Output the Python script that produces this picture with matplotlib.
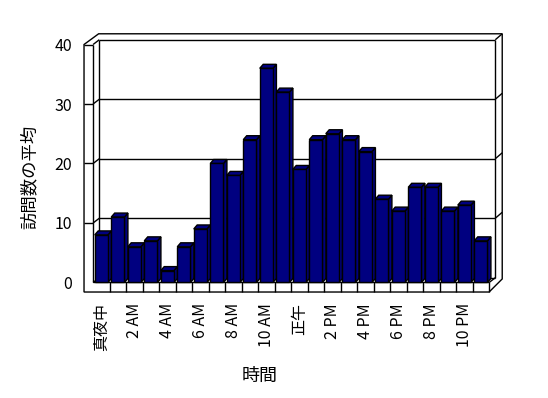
import matplotlib
matplotlib.use('Agg')
import matplotlib.pyplot as plt
from matplotlib.patches import Polygon
import numpy as np

plt.rcParams['font.family'] = ['Noto Sans CJK JP', 'DejaVu Sans']

# データ (時間ごとの訪問数の平均)
horas = np.arange(24)
visitas = [8, 11, 6, 7, 2, 6, 9, 20, 18, 24, 36, 32,
           19, 24, 25, 24, 22, 14, 12, 16, 16, 12, 13, 7]
rotulos = ['真夜中', '2 AM', '4 AM', '6 AM', '8 AM', '10 AM',
           '正午', '2 PM', '4 PM', '6 PM', '8 PM', '10 PM']
yticks = [0, 10, 20, 30, 40]

# 3D風の奥行き (データ単位)
WX, WY = 0.375, 0.8     # 壁の奥行き
LW = 0.55               # 左壁の厚さ
FT = 1.6                # 床の厚さ
BX, BY = 0.42, 1.0      # 背面壁の厚さ
BDX, BDY = 0.21, 0.67   # 棒の奥行き
bw = 0.8
azul = '#000080'

fig = plt.figure(figsize=(5.48, 3.98), dpi=100)
ax = fig.add_axes([84/548, (398-292)/398, (503-84)/548, (292-34)/398])
ax.set_xlim(-1.0515, 24.342)
ax.set_ylim(-1.597, 41.765)
for s in ax.spines.values():
    s.set_visible(False)

x0, x1 = -0.5, 23.5
top = yticks[-1]

# 外枠 (白)
contorno = [(x0 - LW, -FT), (x1, -FT), (x1 + WX + BX, 0.6),
            (x1 + WX + BX, top + WY + BY), (x0 + WX - 0.04, top + WY + BY),
            (x0 - LW, top)]
ax.add_patch(Polygon(contorno, closed=True, facecolor='white',
                     edgecolor='black', lw=1.0, zorder=1, clip_on=False))

def linha(xs, ys):
    ax.plot(xs, ys, color='black', lw=1.0, zorder=2, clip_on=False,
            solid_capstyle='butt')

# 目盛線と壁
for v in yticks:
    linha([x0, x0 + WX], [v, v + WY])
    linha([x0 + WX, x1 + WX], [v + WY, v + WY])
    if v > 0:
        linha([x0 - LW, x0], [v, v])
        linha([x1 + WX, x1 + WX + BX], [v + WY, v + WY + BY])
linha([x0, x0], [0, top])
linha([x0 + WX, x0 + WX], [WY, top + WY])
linha([x1 + WX, x1 + WX], [WY, top + WY])

# 床
linha([x0, x1], [0, 0])
linha([x1, x1 + WX], [0, WY])
for k in range(24):
    linha([k + 0.5, k + 0.5], [-FT, 0])

# 棒
for i, v in zip(horas, visitas):
    z = 3 + i * 0.01
    lado = [(i + bw/2, 0), (i + bw/2 + BDX, BDY),
            (i + bw/2 + BDX, v + BDY), (i + bw/2, v)]
    topo = [(i - bw/2, v), (i + bw/2, v),
            (i + bw/2 + BDX, v + BDY), (i - bw/2 + BDX, v + BDY)]
    ax.add_patch(Polygon(lado, closed=True, facecolor=azul,
                         edgecolor='black', lw=1.0, zorder=z))
    ax.add_patch(Polygon(topo, closed=True, facecolor=azul,
                         edgecolor='black', lw=1.0, zorder=z))
    b = ax.bar(i, v, width=bw, color=azul, edgecolor='black', lw=1.0)
    b[0].set_zorder(z + 0.001)

# 軸
ax.set_yticks(yticks)
ax.set_yticklabels([str(v) for v in yticks], fontsize=11.5)
ax.set_xticks(horas[::2])
ax.set_xticklabels(rotulos, rotation=90, fontsize=11.5)
ax.tick_params(axis='y', length=0, pad=8.6)
ax.tick_params(axis='x', length=0, pad=8)

ax.set_ylabel('訪問数の平均', fontsize=12.5, va='center')
ax.yaxis.set_label_coords(30/548, 1 - 177/398, transform=fig.transFigure)
ax.set_xlabel('時間', fontsize=13, va='center')
ax.xaxis.set_label_coords(260/548, 1 - 376/398, transform=fig.transFigure)

fig.savefig('out.png', dpi=100)
